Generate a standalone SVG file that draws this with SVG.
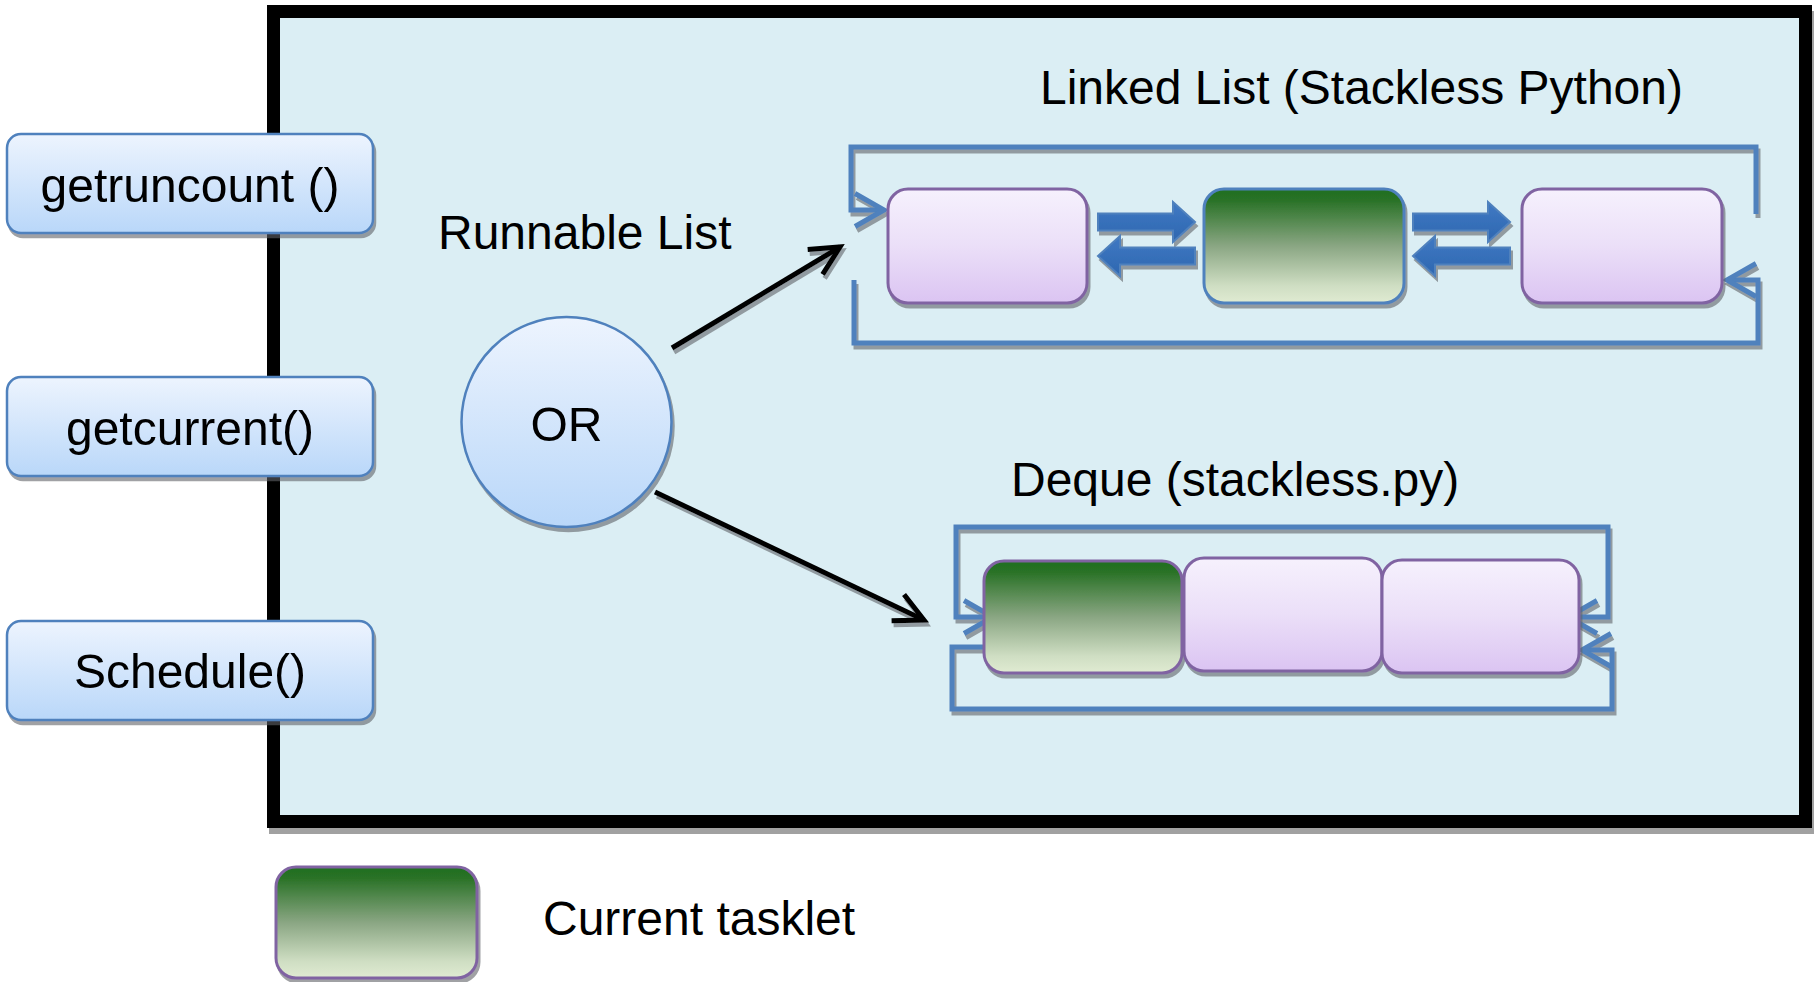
<svg xmlns="http://www.w3.org/2000/svg" width="1819" height="982" viewBox="0 0 1819 982">
  <style>
    text { font-family: "Liberation Sans", Arial, sans-serif; font-size: 48px; fill: #000; }
    .api { fill: url(#gBlue); stroke: #4F81BD; stroke-width: 2.5; }
    .run { fill: url(#gPurple); stroke: #8064A2; stroke-width: 3; }
    .cur { fill: url(#gGreen); stroke: #8064A2; stroke-width: 3; }
    .cur-b { fill: url(#gGreen); stroke: #4F81BD; stroke-width: 3; }
    .link { fill: none; stroke: #4F81BD; stroke-width: 5; stroke-linejoin: miter; }
    .ptr { fill: none; stroke: #000; stroke-width: 5; }
    .block { fill: url(#gArrow); stroke: #4F81BD; stroke-width: 2; }
  </style>
  <defs>
    <linearGradient id="gBlue" x1="0" y1="0" x2="0" y2="1">
      <stop offset="0" stop-color="#EDF4FE"/>
      <stop offset="1" stop-color="#B9D7F9"/>
    </linearGradient>
    <linearGradient id="gPurple" x1="0" y1="0" x2="0" y2="1">
      <stop offset="0" stop-color="#F6F1FD"/>
      <stop offset="0.5" stop-color="#EBDFF8"/>
      <stop offset="1" stop-color="#DBC4F2"/>
    </linearGradient>
    <linearGradient id="gGreen" x1="0" y1="0" x2="0" y2="1">
      <stop offset="0" stop-color="#1F6E1F"/>
      <stop offset="0.1" stop-color="#2A7227"/>
      <stop offset="0.5" stop-color="#8AA683"/>
      <stop offset="0.85" stop-color="#CFDEC3"/>
      <stop offset="1" stop-color="#E0EBD2"/>
    </linearGradient>
    <linearGradient id="gArrow" x1="0" y1="0" x2="0" y2="1">
      <stop offset="0" stop-color="#4079C4"/>
      <stop offset="1" stop-color="#2E67B0"/>
    </linearGradient>
    <filter id="shadow" filterUnits="userSpaceOnUse" x="0" y="0" width="1819" height="982">
      <feOffset in="SourceAlpha" dx="2" dy="4" result="off"/>
      <feGaussianBlur in="off" stdDeviation="0.7" result="blur"/>
      <feFlood flood-color="#5F6468" flood-opacity="0.6"/>
      <feComposite in2="blur" operator="in" result="sh"/>
      <feMerge><feMergeNode in="sh"/><feMergeNode in="SourceGraphic"/></feMerge>
    </filter>
    <filter id="frameShadow" filterUnits="userSpaceOnUse" x="0" y="0" width="1819" height="982">
      <feOffset in="SourceAlpha" dx="2" dy="6" result="off"/>
      <feFlood flood-color="#000" flood-opacity="0.37"/>
      <feComposite in2="off" operator="in" result="sh"/>
      <feMerge><feMergeNode in="sh"/><feMergeNode in="SourceGraphic"/></feMerge>
    </filter>
    <marker id="chevBlack" markerUnits="strokeWidth" viewBox="-8 -4 10 8" refX="0" refY="0" markerWidth="10" markerHeight="8" orient="auto" overflow="visible">
      <path d="M-5.8,-2.9 L0,0 L-5.8,2.9" fill="none" stroke="#000" stroke-width="1"/>
    </marker>
    <marker id="chevBlue" markerUnits="strokeWidth" viewBox="-8 -4 10 8" refX="0" refY="0" markerWidth="10" markerHeight="8" orient="auto-start-reverse" overflow="visible">
      <path d="M-5.8,-3.3 L0,0 L-5.8,3.3" fill="none" stroke="#4F81BD" stroke-width="1"/>
    </marker>
    <!-- block arrows: origin at the tail, centre line y=0 -->
    <path id="arrowRight" d="M0,-8.5 H75 V-20 L97,0 L75,20 V8.5 H0 Z"/>
    <path id="arrowLeft" d="M97,-8.5 H22 V-20 L0,0 L22,20 V8.5 H97 Z"/>
  </defs>

  <rect width="1819" height="982" fill="#FFFFFF"/>

  <!-- scheduler frame -->
  <g id="scheduler">
    <rect x="273.5" y="11.5" width="1532" height="810" fill="#DBEEF4" stroke="#000" stroke-width="13" filter="url(#frameShadow)"/>
  </g>

  <!-- titles -->
  <g id="labels">
    <text x="438" y="249">Runnable List</text>
    <text x="1040" y="104">Linked List (Stackless Python)</text>
    <text x="1011" y="496">Deque (stackless.py)</text>
  </g>

  <!-- connectors -->
  <g id="connectors" filter="url(#shadow)">
    <path class="ptr" d="M672,348 L840,247" marker-end="url(#chevBlack)"/>
    <path class="ptr" d="M655,492 L924,620" marker-end="url(#chevBlack)"/>

    <path class="link" d="M1756,214 V147 H851 V210 H884" marker-end="url(#chevBlue)"/>
    <path class="link" d="M854,280 V343 H1758 V280 H1727" marker-end="url(#chevBlue)"/>

    <path class="link" d="M993,617 H956 V527 H1608 V617 H1568" marker-start="url(#chevBlue)" marker-end="url(#chevBlue)"/>
    <path class="link" d="M986,647 H952 V709 H1612 V650 H1582" marker-end="url(#chevBlue)"/>

    <use href="#arrowRight" class="block" x="1098" y="222"/>
    <use href="#arrowLeft" class="block" x="1098" y="256"/>
    <use href="#arrowRight" class="block" x="1413" y="222"/>
    <use href="#arrowLeft" class="block" x="1413" y="256"/>
  </g>

  <!-- API calls -->
  <g id="getruncount" filter="url(#shadow)">
    <rect class="api" x="7" y="134" width="366" height="99" rx="14"/>
    <text x="190" y="202" text-anchor="middle">getruncount ()</text>
  </g>
  <g id="getcurrent" filter="url(#shadow)">
    <rect class="api" x="7" y="377" width="366" height="99" rx="14"/>
    <text x="190" y="445" text-anchor="middle">getcurrent()</text>
  </g>
  <g id="schedule" filter="url(#shadow)">
    <rect class="api" x="7" y="621" width="366" height="99" rx="14"/>
    <text x="190" y="688" text-anchor="middle">Schedule()</text>
  </g>

  <!-- choice node -->
  <g id="or" filter="url(#shadow)">
    <circle class="api" cx="566.5" cy="422" r="105"/>
    <text x="566.5" y="441" text-anchor="middle">OR</text>
  </g>

  <!-- linked list tasklets -->
  <g id="ll-tasklet-1" filter="url(#shadow)">
    <rect class="run" x="888" y="189" width="199" height="114" rx="20"/>
  </g>
  <g id="ll-tasklet-2" filter="url(#shadow)">
    <rect class="cur-b" x="1204" y="189" width="200" height="114" rx="20"/>
  </g>
  <g id="ll-tasklet-3" filter="url(#shadow)">
    <rect class="run" x="1522" y="189" width="200" height="114" rx="20"/>
  </g>

  <!-- deque tasklets -->
  <g id="dq-tasklet-1" filter="url(#shadow)">
    <rect class="cur" x="984" y="561" width="198" height="112" rx="20"/>
  </g>
  <g id="dq-tasklet-2" filter="url(#shadow)">
    <rect class="run" x="1184" y="558" width="198" height="113" rx="20"/>
  </g>
  <g id="dq-tasklet-3" filter="url(#shadow)">
    <rect class="run" x="1382" y="560" width="197" height="113" rx="20"/>
  </g>

  <!-- legend -->
  <g id="legend">
    <rect class="cur" x="276" y="867" width="201" height="111" rx="20" filter="url(#shadow)"/>
    <text x="543" y="935">Current tasklet</text>
  </g>
</svg>
